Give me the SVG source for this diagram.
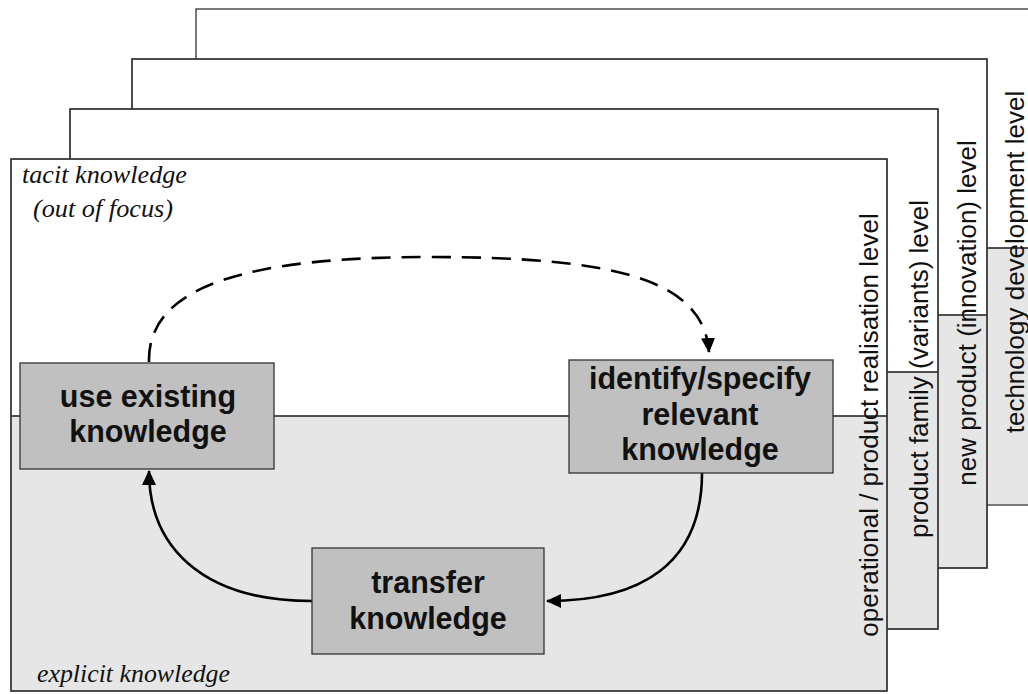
<svg xmlns="http://www.w3.org/2000/svg" width="1028" height="694" viewBox="0 0 1028 694">
<defs>
<style>
.layer{fill:#ffffff;stroke:#333333;stroke-width:1.3}
.lower{fill:#e6e6e6;stroke:none}
.bound{stroke:#1a1a1a;stroke-width:1.3;fill:none}
.edge{fill:none;stroke:#333333;stroke-width:1.3}
.node{fill:#c0c0c0;stroke:#333333;stroke-width:1.3}
.nt{font-family:"Liberation Sans",Arial,sans-serif;font-weight:bold;font-size:30.5px;fill:#111111;text-anchor:middle}
.it{font-family:"Liberation Serif","Times New Roman",serif;font-style:italic;font-size:26px;fill:#111111}
.vt{font-family:"Liberation Sans",Arial,sans-serif;font-size:26px;fill:#111111;text-anchor:middle}
.conn{fill:none;stroke:#000000;stroke-width:2.6}
.dash{stroke-dasharray:19 11}
</style>
<marker id="ah" viewBox="0 0 15 14" refX="14" refY="7" markerWidth="15" markerHeight="14" markerUnits="userSpaceOnUse" orient="auto">
<path d="M0,0 L15,7 L0,14 Z" fill="#000000"/>
</marker>
</defs>

<g id="layer-technology">
<rect class="layer" x="196" y="9" width="900" height="496"/>
<rect class="lower" x="197" y="248" width="880" height="256"/>
<line class="bound" x1="196" y1="248" x2="1028" y2="248"/>
<text class="vt" transform="translate(1024,262) rotate(-90)">technology development level</text>
</g>

<g id="layer-newproduct">
<rect class="layer" x="132" y="59" width="855" height="509"/>
<rect class="lower" x="133" y="315" width="853" height="252"/>
<line class="bound" x1="132" y1="315" x2="987" y2="315"/>
<rect class="edge" x="132" y="59" width="855" height="509"/>
<text class="vt" transform="translate(976,313) rotate(-90)">new product (innovation) level</text>
</g>

<g id="layer-productfamily">
<rect class="layer" x="70" y="109" width="868" height="520"/>
<rect class="lower" x="71" y="372" width="866" height="256"/>
<line class="bound" x1="70" y1="372" x2="938" y2="372"/>
<rect class="edge" x="70" y="109" width="868" height="520"/>
<text class="vt" transform="translate(928,369) rotate(-90)">product family (variants) level</text>
</g>

<g id="layer-operational">
<rect class="layer" x="11" y="159" width="876" height="532"/>
<rect class="lower" x="12" y="416" width="874" height="274"/>
<line class="bound" x1="11" y1="416" x2="887" y2="416"/>
<rect class="edge" x="11" y="159" width="876" height="532"/>
<text class="vt" transform="translate(878,425) rotate(-90)">operational / product realisation level</text>
<text class="it" x="22" y="183" textLength="165" lengthAdjust="spacingAndGlyphs">tacit knowledge</text>
<text class="it" x="33" y="217" textLength="140" lengthAdjust="spacingAndGlyphs">(out of focus)</text>
<text class="it" x="37" y="682" textLength="193" lengthAdjust="spacingAndGlyphs">explicit knowledge</text>
</g>

<g id="connectors">
<path class="conn dash" d="M149,362 C147,285 250,257 430,257 C610,257 704,278 709,352" marker-end="url(#ah)"/>
<path class="conn" d="M702,473 C702,565 640,601 547,601" marker-end="url(#ah)"/>
<path class="conn" d="M312,601 C200,601 149,545 149,471" marker-end="url(#ah)"/>
</g>

<g id="node-use">
<rect class="node" x="20" y="363" width="254" height="106"/>
<text class="nt" x="148" y="407">use existing</text>
<text class="nt" x="148" y="442">knowledge</text>
</g>

<g id="node-identify">
<rect class="node" x="569" y="360" width="264" height="113"/>
<text class="nt" x="700" y="389">identify/specify</text>
<text class="nt" x="700" y="425">relevant</text>
<text class="nt" x="700" y="460">knowledge</text>
</g>

<g id="node-transfer">
<rect class="node" x="312" y="548" width="232" height="106"/>
<text class="nt" x="428" y="593">transfer</text>
<text class="nt" x="428" y="629">knowledge</text>
</g>
</svg>
